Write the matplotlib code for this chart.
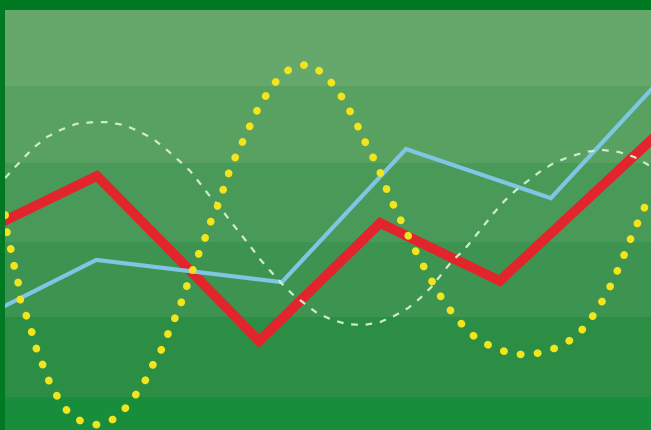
import matplotlib
matplotlib.use('Agg')
import matplotlib.pyplot as plt

# band edges (value scale 0..10) and their greens, bottom to top
band_edges = [0.0, 0.79, 2.69, 4.48, 6.36, 8.19, 10.0]
band_colors = ['#188d3c', '#2c8e45', '#3c9450', '#499a58', '#58a161', '#66a86c']

# red polyline
red_x = [0.0, 1.43, 3.94, 5.81, 7.66, 10.0]
red_y = [4.98, 6.05, 2.12, 4.93, 3.55, 6.90]

# blue polyline
blue_x = [0.0, 1.42, 4.29, 6.21, 8.45, 10.0]
blue_y = [2.95, 4.05, 3.52, 6.69, 5.52, 8.10]

# yellow dotted wave
yellow_x = [0.01, 0.04, 0.10, 0.15, 0.21, 0.24, 0.35, 0.43, 0.50, 0.60, 0.70, 0.83,
            0.98, 1.20, 1.45, 1.69, 1.89, 2.05, 2.19, 2.31, 2.44, 2.54, 2.65, 2.75,
            2.84, 2.93, 3.02, 3.12, 3.21, 3.33, 3.40, 3.49, 3.60, 3.72, 3.83, 3.94,
            4.09, 4.25, 4.45, 4.71, 4.94, 5.11, 5.27, 5.39, 5.51, 5.62, 5.75, 5.85,
            5.95, 6.07, 6.18, 6.30, 6.41, 6.54, 6.67, 6.81, 6.98, 7.15, 7.35, 7.59,
            7.85, 8.10, 8.36, 8.64, 8.86, 9.03, 9.18, 9.32, 9.43, 9.54, 9.64, 9.74,
            9.86, 9.95, 10.0]
yellow_y = [5.12, 4.69, 4.29, 3.90, 3.52, 3.12, 2.67, 2.29, 1.90, 1.52, 1.12, 0.76,
            0.43, 0.19, 0.12, 0.26, 0.55, 0.88, 1.21, 1.60, 1.95, 2.33, 2.71, 3.10,
            3.52, 3.88, 4.26, 4.64, 5.05, 5.45, 5.81, 6.21, 6.60, 6.98, 7.36, 7.71,
            8.07, 8.40, 8.64, 8.71, 8.48, 8.17, 7.81, 7.45, 7.10, 6.71, 6.36, 5.98,
            5.57, 5.19, 4.83, 4.45, 4.10, 3.74, 3.38, 3.02, 2.69, 2.38, 2.12, 1.95,
            1.81, 1.79, 1.86, 2.02, 2.26, 2.55, 2.90, 3.26, 3.62, 4.00, 4.38, 4.76,
            5.14, 5.50, 5.64]

# white dashed wave
white_x = [0.01, 0.12, 0.44, 0.66, 0.86, 1.11, 1.37, 1.60, 1.85, 2.07, 2.30, 2.51,
           2.71, 2.87, 3.02, 3.16, 3.32, 3.49, 3.64, 3.80, 3.95, 4.11, 4.28, 4.45,
           4.65, 4.83, 5.07, 5.30, 5.56, 5.81, 6.02, 6.24, 6.43, 6.60, 6.75, 6.92,
           7.11, 7.26, 7.42, 7.57, 7.73, 7.91, 8.11, 8.30, 8.50, 8.73, 8.99, 9.24,
           9.50, 9.74, 9.94, 10.0]
white_y = [6.00, 6.19, 6.71, 6.98, 7.14, 7.29, 7.33, 7.33, 7.26, 7.12, 6.93, 6.67,
           6.40, 6.17, 5.88, 5.60, 5.33, 4.98, 4.69, 4.38, 4.07, 3.79, 3.50, 3.24,
           3.00, 2.79, 2.62, 2.52, 2.50, 2.57, 2.71, 2.90, 3.14, 3.40, 3.69, 4.02,
           4.29, 4.57, 4.88, 5.17, 5.45, 5.71, 5.95, 6.17, 6.36, 6.50, 6.62, 6.67,
           6.62, 6.50, 6.33, 6.26]

fig = plt.figure(figsize=(6.51, 4.30), dpi=100, facecolor='#007a22')
ax = fig.add_axes([4.5 / 651, 0, 1 - 4.5 / 651, 420 / 430])

for i in range(len(band_colors)):
    ax.axhspan(band_edges[i], band_edges[i + 1], color=band_colors[i], lw=0, zorder=0)

ax.plot(red_x, red_y, color='#e2242c', lw=7, solid_joinstyle='miter', zorder=2)
ax.plot(blue_x, blue_y, color='#7fc6e4', lw=3, solid_joinstyle='miter', zorder=3)
ax.plot(white_x, white_y, color='#cfeccb', lw=1.6, dashes=(3, 3.5), zorder=4)
ax.plot(yellow_x, yellow_y, color='#f2e51c', lw=5.5, dashes=(0.05, 2.2),
        dash_capstyle='round', zorder=5)

ax.set_xlim(0, 10)
ax.set_ylim(0, 10)
ax.axis('off')

fig.savefig('out.png', dpi=100, facecolor=fig.get_facecolor())
